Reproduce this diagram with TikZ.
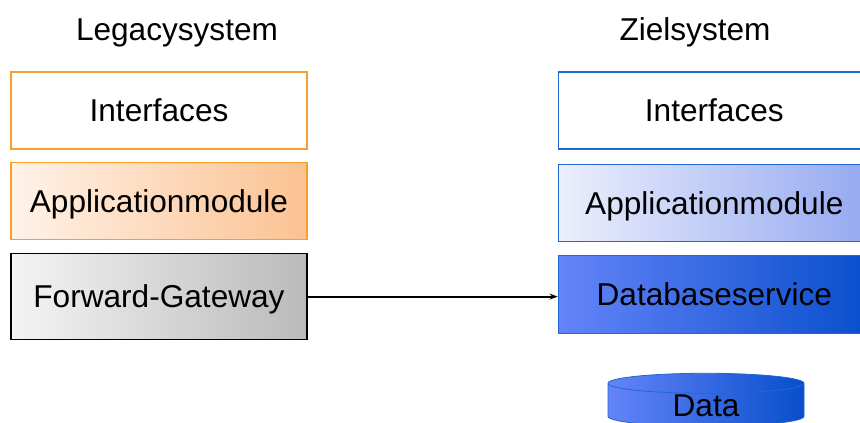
\documentclass[tikz,border=0pt]{standalone}
\usepackage{fontspec}
\setmainfont{Liberation Sans}
\usetikzlibrary{shapes.geometric, arrows.meta, positioning}
\definecolor{legacyOrange}{RGB}{245, 160, 40}
\definecolor{orangeLight}{RGB}{255, 242, 232}
\definecolor{orangeDark}{RGB}{251, 194, 146}
\definecolor{grayLight}{RGB}{244, 244, 244}
\definecolor{grayDark}{RGB}{186, 186, 186}
\definecolor{targetBlue}{RGB}{30, 105, 210}
\definecolor{blueLight}{RGB}{236, 239, 252}
\definecolor{blueMid}{RGB}{148, 168, 240}
\definecolor{dbLight}{RGB}{100, 132, 248}
\definecolor{dbDark}{RGB}{8, 78, 204}
\tikzset{
    % Base Layer Style
    layer/.style={
        rectangle,
        minimum height=77pt,
        text height=22.6pt,
        text depth=0pt,
        inner sep=0pt,
        font=\fontsize{31.6}{36}\selectfont,
        line width=1.3pt
    },
    % Column Styles
    legacyLayer/.style={layer, minimum width=296pt, draw=legacyOrange},
    targetLayer/.style={layer, minimum width=312pt, draw=targetBlue},
    % Filled Layers
    layerOrange/.style={legacyLayer, left color=orangeLight, right color=orangeDark},
    layerGray/.style={legacyLayer, draw=black, left color=grayLight, right color=grayDark},
    layerBlueLight/.style={targetLayer, left color=blueLight, right color=blueMid},
    layerBlueDark/.style={targetLayer, left color=dbLight, right color=dbDark},
    % Storage
    dbCyl/.style={
        cylinder, shape border rotate=90, aspect=0.3,
        minimum width=196pt, minimum height=46pt,
        inner sep=0pt, text height=22.6pt, text depth=0pt,
        draw=targetBlue, line width=0.8pt,
        left color=dbLight, right color=dbDark,
        font=\fontsize{31.6}{36}\selectfont
    },
    % Arrow & Title Styles
    arrow/.style={-{Stealth[length=8pt, width=6pt]}, line width=1.8pt, draw=black},
    colTitle/.style={font=\fontsize{31.6}{36}\selectfont, text height=22.6pt, text depth=0pt, inner sep=0pt}
}
\begin{document}
\begin{tikzpicture}[x=1pt, y=-1pt, node distance=12pt and 250pt]

    \useasboundingbox (0,0) rectangle (860,423);

    % --- LEFT COLUMN (Legacysystem) ---
    \node (legTitle) [colTitle] at (177,29.5) {Legacysystem};

    \node (legIf) [legacyLayer] at (159,110.5) {Interfaces};

    \node (legApp) [layerOrange, below=of legIf] {Applicationmodule};

    \node (fwdGw) [layerGray, below=13pt of legApp, minimum height=86pt] {Forward-Gateway};

    % --- RIGHT COLUMN (Zielsystem) ---
    \node (zielTitle) [colTitle] at (695,29.5) {Zielsystem};

    \node (zielIf) [targetLayer, right=of legIf] {Interfaces};

    \node (zielApp) [layerBlueLight, below=14pt of zielIf] {Applicationmodule};

    \node (dbSvc) [layerBlueDark, below=13pt of zielApp, minimum height=78pt] {Databaseservice};

    % Storage below the service
    \node (data) [dbCyl] at (706,405) {Data};

    % --- Arrow ---
    \draw [arrow] (fwdGw.east) -- (fwdGw.east -| dbSvc.west);

\end{tikzpicture}
\end{document}
